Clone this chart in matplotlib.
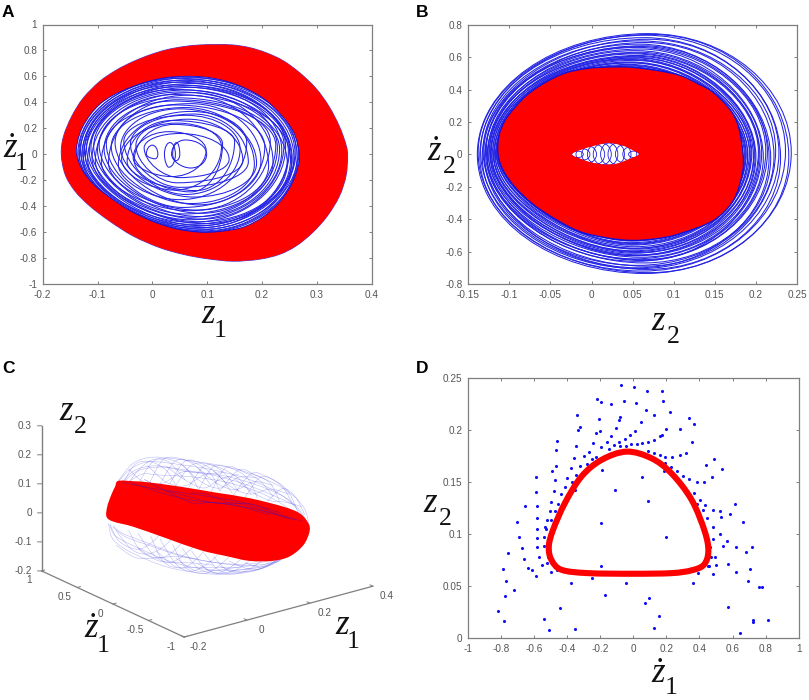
import numpy as np
import matplotlib
matplotlib.use("Agg")
import matplotlib.pyplot as plt
from matplotlib.path import Path
from matplotlib.patches import PathPatch
from mpl_toolkits.mplot3d import art3d, proj3d

# panel A: red band outlines (z1, z1 dot)
a_outer_x = [-.166, -.162, -.147, -.126, -.096, -.065, -.035, -.005, .025, .056, .086, .116, .147, .177, .207, .238, .268, .298, .322,
             .341, .353, .356, .353, .341, .319, .292, .262, .232, .195, .147, .098, .056, .013, -.035, -.078, -.114, -.141, -.159]
a_outer_y = [0, .138, .292, .433, .561, .650, .714, .765, .804, .829, .842, .845, .842, .822, .783, .722, .630, .509, .369,
             .215, .074, -.015, -.169, -.323, -.476, -.604, -.707, -.771, -.809, -.824, -.804, -.771, -.719, -.630, -.515, -.399, -.284, -.156]
a_inner_x = [-.139, -.137, -.129, -.114, -.096, -.072, -.041, -.011, .025, .062, .098, .135, .171, .207, .238, .259, .269,
             .265, .253, .232, .201, .165, .122, .086, .044, .001, -.041, -.078, -.108, -.129]
a_inner_y = [0, .100, .202, .305, .389, .458, .517, .561, .594, .604, .597, .566, .509, .420, .292, .164, 0,
             -.118, -.246, -.374, -.489, -.566, -.599, -.604, -.579, -.522, -.438, -.335, -.233, -.118]

# panel A: blue loops, extents
a_left = [-.136, -.134, -.133, -.131, -.129, -.127, -.126, -.124, -.122, -.120, -.118, -.115, -.112, -.110, -.107, -.104,
          -.100, -.097, -.093, -.088, -.084, -.080, -.075, -.068, -.062, -.058, -.052, -.046, -.040, -.033, -.030, -.056,
          -.015, -.035, .035, .022, .037, -.011]
a_right = [.267, .264, .266, .258, .262, .255, .260, .250, .254, .248, .243, .252, .236, .246, .228, .240,
           .220, .232, .212, .225, .198, .215, .186, .205, .172, .190, .160, .150, .175, .128, .165, .126,
           .140, .098, .099, .042, .050, .010]
a_top = [.596, .585, .590, .570, .575, .555, .560, .535, .545, .520, .530, .500, .515, .480, .495, .460,
         .475, .435, .455, .410, .390, .420, .360, .380, .330, .350, .300, .260, .310, .230, .270, .240,
         .160, .174, .110, .090, .090, .070]
a_bot = [-.598, -.600, -.585, -.590, -.570, -.578, -.555, -.565, -.540, -.550, -.525, -.535, -.505, -.520, -.485, -.500,
         -.460, -.480, -.435, -.455, -.410, -.430, -.380, -.390, -.350, -.330, -.310, -.280, -.255, -.290, -.220, -.276,
         -.180, -.172, -.106, -.100, -.050, -.035]
a_xtop = [.060, .050, .068, .055, .070, .050, .066, .045, .072, .050, .064, .042, .070, .050, .060, .040,
          .072, .045, .066, .038, .070, .045, .060, .040, .070, .050, .062, .035, .075, .040, .065, .045,
          .050, .030, .060, .032, .044, .000]
a_xbot = [.090, .098, .080, .095, .078, .092, .075, .090, .070, .088, .072, .095, .068, .085, .070, .090,
          .060, .085, .068, .090, .055, .080, .070, .085, .050, .075, .060, .080, .050, .070, .045, .040,
          .050, .035, .070, .030, .043, .005]
a_yl = [0, .01, -.01, .02, -.02, .015, -.03, .03, -.01, .04, -.04, .02, .05, -.03, .06, -.05,
        .03, .07, -.06, .04, .08, -.07, .06, .09, -.08, .05, .10, -.06, .08, -.05, .07, -.04,
        .05, -.03, 0, 0, 0, 0]
a_yr = [.01, -.01, .02, -.02, .03, -.03, .01, .04, -.05, .02, .06, -.04, .03, -.07, .05, .08,
        -.06, .04, -.09, .07, -.05, .10, -.08, .06, .09, -.07, .04, .10, -.06, .08, -.05, .06,
        -.04, .03, 0, 0, 0, 0]

# panel B: red disc with the small hole in the middle
b_outer_x = [-.113, -.112, -.105, -.093, -.077, -.056, -.032, -.004, .025, .049, .080, .1076, .130, .1478, .168, .178, .1835,
             .1827, .172, .1478, .1076, .081, .049, .017, -.016, -.048, -.072, -.093, -.107]
b_outer_y = [0, .111, .204, .286, .368, .440, .498, .527, .535, .533, .513, .483, .430, .378, .273, .168, .006,
             -.117, -.281, -.405, -.485, -.515, -.527, -.510, -.469, -.383, -.300, -.198, -.095]
b_hole_x = [-0.024, -0.012, 0.005, 0.022, 0.04, 0.05, 0.0575, 0.045, 0.03, 0.015, 0.0, -0.012]
b_hole_y = [0.0, 0.03, 0.055, 0.07, 0.05, 0.025, 0.0, -0.03, -0.058, -0.062, -0.05, -0.03]

b_left = [-0.139, -0.138, -0.136, -0.135, -0.133, -0.132, -0.130, -0.129, -0.128, -0.127, -0.126, -0.125, -0.124,
          -0.123, -0.122, -0.121, -0.120, -0.119, -0.118, -0.117, -0.116, -0.115, -0.114, -0.114,
          -0.131, -0.127, -0.123, -0.119, -0.116, -0.112]
b_right = [0.243, 0.240, 0.236, 0.230, 0.228, 0.224, 0.222, 0.218, 0.214, 0.212, 0.209, 0.207, 0.205,
           0.203, 0.200, 0.198, 0.197, 0.195, 0.193, 0.192, 0.190, 0.188, 0.187, 0.186,
           0.216, 0.204, 0.199, 0.194, 0.190, 0.188]
b_top = [0.745, 0.740, 0.735, 0.720, 0.710, 0.700, 0.690, 0.680, 0.670, 0.660, 0.650, 0.640, 0.630,
         0.620, 0.610, 0.600, 0.595, 0.585, 0.580, 0.570, 0.565, 0.555, 0.545, 0.540,
         0.665, 0.625, 0.605, 0.590, 0.565, 0.550]
b_bot = [-0.735, -0.730, -0.720, -0.710, -0.705, -0.690, -0.685, -0.670, -0.660, -0.650, -0.645, -0.635, -0.625,
         -0.620, -0.610, -0.605, -0.595, -0.585, -0.580, -0.570, -0.560, -0.550, -0.545, -0.535,
         -0.700, -0.655, -0.625, -0.600, -0.580, -0.555]
b_xtop = [0.069, 0.073, 0.066, 0.064, 0.070, 0.060, 0.066, 0.058, 0.063, 0.056, 0.060, 0.054, 0.058,
          0.052, 0.056, 0.050, 0.054, 0.048, 0.052, 0.047, 0.050, 0.046, 0.048, 0.045,
          0.060, 0.052, 0.056, 0.049, 0.047, 0.046]
b_xbot = [0.065, 0.070, 0.062, 0.068, 0.058, 0.066, 0.056, 0.064, 0.054, 0.062, 0.052, 0.060, 0.056,
          0.058, 0.052, 0.056, 0.050, 0.054, 0.052, 0.052, 0.049, 0.050, 0.048, 0.049,
          0.056, 0.062, 0.050, 0.053, 0.051, 0.049]
b_yl = [0, .01, -.01, .015, -.015, .02, -.02, .01, .025, -.025, .015, -.01, .02, -.02, .01, -.015,
        .015, -.01, .01, -.01, .01, 0, .005, 0, .02, -.02, .01, -.015, .01, 0]
b_yr = [.01, -.015, .02, -.02, .01, .025, -.01, -.025, .015, .02, -.02, .01, -.01, .015, -.015, .01,
        -.01, .01, -.01, .01, 0, .005, 0, 0, -.02, .02, -.01, .01, -.005, 0]
b_kur = [.55, .55, .55, .55, .54, .54, .54, .53, .53, .53, .52, .52, .52, .52, .51, .51, .51, .50, .50, .50, .50, .49, .49, .49,
         .53, .52, .51, .50, .50, .49]
b_kll = [.55, .55, .55, .54, .54, .53, .53, .52, .52, .51, .50, .50, .49, .49, .48, .48, .47, .46, .46, .45, .44, .44, .43, .42,
         .52, .49, .47, .46, .44, .42]

hole_left = [-0.024, -0.019, -0.012, -0.005, 0.002, 0.011, 0.020, 0.029, 0.038, 0.045]
hole_right = [-0.010, -0.002, 0.006, 0.016, 0.024, 0.032, 0.040, 0.048, 0.055, 0.058]
hole_top = [0.02, 0.035, 0.05, 0.06, 0.068, 0.07, 0.068, 0.058, 0.045, 0.02]
hole_bot = [-0.02, -0.035, -0.05, -0.06, -0.064, -0.066, -0.062, -0.052, -0.04, -0.02]
hole_xtop = [-0.017, -0.011, -0.003, 0.005, 0.013, 0.021, 0.03, 0.038, 0.046, 0.051]
hole_xbot = [-0.017, -0.010, -0.003, 0.006, 0.013, 0.022, 0.03, 0.039, 0.047, 0.052]

# panel C: everything lies in the zdot = 0 plane, (z1, z2) pairs
c_red_z1 = [-0.193, -0.183, -0.135, -0.082, 0.024, 0.130, 0.236, 0.342, 0.395, 0.422, 0.425, 0.406, 0.363,
            0.310, 0.236, 0.162, 0.077, -0.029, -0.135, -0.198, -0.220, -0.218, -0.206]
c_red_z2 = [0.202, 0.219, 0.204, 0.184, 0.137, 0.087, 0.037, -0.023, -0.062, -0.104, -0.134, -0.174, -0.200,
            -0.200, -0.179, -0.141, -0.095, -0.024, 0.047, 0.083, 0.106, 0.140, 0.175]

c_halo_z1 = [
    [-0.183, -0.135, -0.071, 0.024, 0.13, 0.236, 0.342, 0.406, 0.425],
    [-0.19, -0.14, -0.08, 0.02, 0.12, 0.23, 0.33, 0.39, 0.42],
    [-0.18, -0.12, -0.04, 0.06, 0.16, 0.26, 0.35, 0.40, 0.42],
    [-0.17, -0.11, -0.05, 0.05, 0.15, 0.25, 0.33, 0.39],
    [-0.18, -0.13, -0.06, 0.03, 0.12, 0.22, 0.31, 0.38],
    [-0.17, -0.13, -0.08, -0.03, 0.0],
    [-0.16, -0.115, -0.07, -0.02, 0.03],
    [-0.12, -0.07, -0.01, 0.04, 0.07],
    [-0.09, -0.04, 0.02, 0.07, 0.11],
    [-0.05, 0.0, 0.06, 0.11, 0.14],
    [-0.02, 0.03, 0.09, 0.14, 0.18],
    [0.0, 0.05, 0.11, 0.16, 0.2],
    [0.04, 0.09, 0.14, 0.2, 0.24],
    [0.07, 0.12, 0.18, 0.23, 0.26],
    [0.11, 0.16, 0.22, 0.27, 0.31],
    [0.14, 0.2, 0.25, 0.3, 0.33],
    [0.18, 0.24, 0.29, 0.34, 0.37],
    [0.22, 0.27, 0.32, 0.36, 0.39],
    [0.29, 0.34, 0.38, 0.41],
    [-0.15, -0.1, -0.04, 0.02, 0.08],
    [-0.09, -0.03, 0.03, 0.09, 0.15],
    [-0.03, 0.03, 0.09, 0.14, 0.2],
    [0.02, 0.08, 0.14, 0.2, 0.26],
    [0.07, 0.13, 0.19, 0.25, 0.31],
    [0.12, 0.18, 0.24, 0.3, 0.36],
    [0.19, 0.25, 0.3, 0.35, 0.4],
    [-0.214, -0.198, -0.135, -0.029, 0.077, 0.183, 0.289, 0.395, 0.425],
    [-0.21, -0.19, -0.12, -0.02, 0.08, 0.18, 0.28, 0.38, 0.42],
    [-0.2, -0.17, -0.10, 0.0, 0.10, 0.20, 0.30, 0.38],
    [-0.2, -0.16, -0.08, 0.02, 0.12, 0.22, 0.31, 0.37],
    [-0.21, -0.18, -0.12, -0.07, -0.04],
    [-0.19, -0.14, -0.09, -0.04, 0.0],
    [-0.15, -0.11, -0.05, 0.0, 0.04],
    [-0.12, -0.07, -0.02, 0.03, 0.08],
    [-0.08, -0.04, 0.02, 0.07, 0.11],
    [-0.05, 0.0, 0.05, 0.11, 0.15],
    [-0.01, 0.03, 0.09, 0.14, 0.19],
    [0.02, 0.07, 0.13, 0.18, 0.23],
    [0.05, 0.10, 0.16, 0.21, 0.26],
    [0.09, 0.14, 0.2, 0.25, 0.3],
    [0.12, 0.17, 0.24, 0.29, 0.34],
    [0.17, 0.23, 0.28, 0.33, 0.38],
    [0.22, 0.27, 0.33, 0.38, 0.41],
    [-0.19, -0.13, -0.07, 0.0, 0.06],
    [-0.12, -0.06, 0.0, 0.06, 0.12],
    [-0.06, 0.0, 0.06, 0.13, 0.2],
    [0.0, 0.06, 0.13, 0.2, 0.26],
    [0.07, 0.13, 0.2, 0.27, 0.33],
    [0.14, 0.2, 0.27, 0.33, 0.39],
]
c_halo_z2 = [
    [0.219, 0.266, 0.268, 0.231, 0.183, 0.123, 0.04, -0.042, -0.116],
    [0.21, 0.25, 0.255, 0.215, 0.168, 0.105, 0.025, -0.05, -0.11],
    [0.20, 0.235, 0.225, 0.18, 0.135, 0.075, 0.005, -0.06, -0.11],
    [0.195, 0.22, 0.20, 0.165, 0.12, 0.06, -0.005, -0.07],
    [0.205, 0.24, 0.235, 0.19, 0.15, 0.09, 0.025, -0.03],
    [0.20, 0.26, 0.255, 0.21, 0.15],
    [0.19, 0.24, 0.26, 0.235, 0.16],
    [0.19, 0.255, 0.24, 0.19, 0.12],
    [0.17, 0.25, 0.235, 0.19, 0.12],
    [0.17, 0.235, 0.21, 0.16, 0.09],
    [0.16, 0.225, 0.195, 0.14, 0.07],
    [0.15, 0.205, 0.19, 0.14, 0.07],
    [0.13, 0.19, 0.17, 0.115, 0.05],
    [0.11, 0.18, 0.155, 0.105, 0.03],
    [0.09, 0.165, 0.13, 0.085, 0.02],
    [0.09, 0.145, 0.115, 0.07, 0.0],
    [0.06, 0.12, 0.095, 0.045, -0.02],
    [0.045, 0.10, 0.07, 0.02, -0.06],
    [0.01, 0.04, 0.0, -0.07],
    [0.25, 0.19, 0.17, 0.19, 0.17],
    [0.245, 0.17, 0.14, 0.16, 0.15],
    [0.225, 0.16, 0.115, 0.13, 0.13],
    [0.215, 0.14, 0.10, 0.12, 0.10],
    [0.19, 0.12, 0.08, 0.09, 0.06],
    [0.165, 0.09, 0.05, 0.05, 0.015],
    [0.115, 0.05, 0.01, -0.01, -0.04],
    [0.082, 0.02, -0.045, -0.122, -0.174, -0.209, -0.215, -0.177, -0.134],
    [0.075, 0.03, -0.03, -0.105, -0.16, -0.195, -0.205, -0.17, -0.13],
    [0.07, 0.035, -0.015, -0.085, -0.14, -0.18, -0.195, -0.165],
    [0.065, 0.02, -0.035, -0.10, -0.15, -0.19, -0.205, -0.18],
    [0.08, 0.01, -0.035, -0.02, 0.01],
    [0.05, -0.03, -0.06, -0.05, -0.02],
    [0.04, -0.045, -0.085, -0.07, -0.03],
    [0.02, -0.07, -0.11, -0.095, -0.06],
    [0.0, -0.10, -0.14, -0.12, -0.08],
    [-0.02, -0.12, -0.16, -0.145, -0.11],
    [-0.05, -0.14, -0.18, -0.165, -0.13],
    [-0.07, -0.155, -0.19, -0.18, -0.15],
    [-0.09, -0.17, -0.2, -0.19, -0.16],
    [-0.11, -0.185, -0.21, -0.2, -0.175],
    [-0.13, -0.195, -0.215, -0.21, -0.19],
    [-0.16, -0.205, -0.215, -0.195, -0.16],
    [-0.18, -0.21, -0.205, -0.17, -0.13],
    [0.0, -0.06, -0.08, -0.095, -0.12],
    [-0.03, -0.09, -0.115, -0.135, -0.16],
    [-0.06, -0.13, -0.15, -0.17, -0.19],
    [-0.10, -0.16, -0.18, -0.19, -0.2],
    [-0.14, -0.19, -0.2, -0.21, -0.205],
    [-0.17, -0.205, -0.215, -0.2, -0.17],
]

c_net_z1 = [
    [-0.17, -0.08, 0.03, 0.14, 0.25, 0.33],
    [-0.14, -0.05, 0.05, 0.17, 0.27, 0.38],
    [-0.10, -0.02, 0.06, 0.11, 0.2, 0.3],
    [-0.03, 0.04, 0.12, 0.2, 0.29, 0.36],
    [0.05, 0.1, 0.17, 0.24, 0.32, 0.4],
]
c_net_z2 = [
    [0.21, 0.165, 0.115, 0.065, 0.01, -0.04],
    [0.2, 0.14, 0.085, 0.035, -0.015, -0.08],
    [0.2, 0.13, 0.07, 0.06, 0.02, -0.04],
    [0.14, 0.1, 0.055, 0.03, -0.025, -0.07],
    [0.11, 0.09, 0.04, 0.015, -0.04, -0.09],
]

c_tick_z2 = [-0.2, -0.1, 0, 0.1, 0.2, 0.3]
c_tick_zdot = [1, 0.5, 0, -0.5, -1]
c_tick_z1 = [-0.2, 0, 0.2, 0.4]

# panel D: section points and the red closed curve
d_x = [-.073, .002, .081, .173, -.220, -.196, -.137, -.058, .018, .181, .075, .222, .127, -.077, -.085, -.204,
       -.337, .046, .339, .365, -.319, -.335, -.200, -.222, -.105, .012, .200, .282, .171, .161, -.022, -.052,
       .127, -.458, -.085, -.244, -.161, -.343, -.133, .353, -.468, -.270, -.192, -.147, -.115, -.081, -.046, -.014,
       .020, .054, .089, -.300, -.359, -.319, -.224, -.248, -.278, -.377, -.466, -.490, -.589, -.190, .054, .188,
       .194, .236, .280, .319, .091, .123, .161, .194, .228, .264, .300, .339, .385, .427, .476, .438,
       .488, .534, -.470, -.397, -.347, -.369, -.413, -.480, -.587, -.351, -.111, .091, .367, .403, .331, .383,
       .435, .419, -.653, -.581, -.494, -.438, -.456, -.474, -.504, -.581, -.518, -.494, -.700, -.532, -.528, -.581,
       -.688, -.581, -.538, -.196, .198, .526, .532, .482, .446, .484, .522, .615, .585, .661, .567, .623,
       .681, .716, .540, .484, .466, -.758, -.673, -.581, -.538, -.657, -.571, -.514, -.518, -.635, -.613, -.552,
       -.587, -.498, -.462, -.784, -.766, -.720, -.776, -.819, -.780, -.538, -.508, -.353, -.440, -.375, -.250, -.192,
       -.171, -.042, .071, .097, .153, .127, .361, .389, .450, .458, .484, .500, .494, .470, .575, .623,
       .692, .704, .760, .780, .571, .722, .726, .817, .645]
d_y = [.243, .241, .237, .237, .230, .227, .225, .228, .226, .228, .219, .217, .214, .212, .209, .210,
       .214, .207, .211, .206, .203, .200, .199, .197, .202, .199, .201, .201, .195, .194, .195, .191,
       .190, .189, .188, .187, .188, .184, .194, .188, .181, .179, .183, .182, .185, .184, .184, .186,
       .186, .187, .188, .175, .173, .165, .174, .172, .167, .163, .165, .160, .155, .161, .155, .160,
       .174, .174, .176, .178, .180, .178, .176, .168, .164, .160, .156, .153, .150, .150, .155, .166,
       .172, .162, .152, .154, .157, .150, .145, .141, .140, .142, .142, .132, .139, .133, .136, .129,
       .128, .123, .127, .127, .131, .138, .129, .122, .122, .115, .113, .113, .111, .107, .105, .105,
       .097, .096, .097, .110, .097, .122, .116, .123, .115, .107, .100, .129, .119, .111, .093, .087,
       .083, .087, .088, .095, .087, .082, .086, .087, .088, .076, .078, .078, .072, .067, .065, .070,
       .060, .063, .065, .066, .055, .046, .040, .026, .016, .018, .008, .009, .029, .053, .058, .069,
       .041, .053, .034, .038, .021, .010, .053, .062, .069, .069, .061, .070, .078, .078, .071, .063,
       .055, .066, .049, .049, .030, .017, .015, .017, .005]
d_ring_x = [0.0, 0.232, 0.353, 0.427, 0.454, 0.433, 0.353, 0.232, 0.111, -0.04,
            -0.192, -0.313, -0.413, -0.484, -0.51, -0.494, -0.433, -0.272]
d_ring_y = [0.0617, 0.0623, 0.065, 0.0703, 0.083, 0.102, 0.1327, 0.158, 0.1726, 0.179,
            0.171, 0.155, 0.1295, 0.104, 0.088, 0.075, 0.0655, 0.0623]

W, H = 809, 700
GRAY = "#7f7f7f"
TICK_TEXT = "#555555"
SERIF = "Liberation Serif"
SANS = "Liberation Sans"


def smooth_path(xs, ys, closed=True):
    # bezier pieces that pass through the read points
    pts = np.column_stack([xs, ys])
    n = len(pts)
    verts = [pts[0]]
    codes = [Path.MOVETO]
    for i in range(n if closed else n - 1):
        if closed:
            p0, p1, p2, p3 = pts[i - 1], pts[i], pts[(i + 1) % n], pts[(i + 2) % n]
        else:
            p0, p1, p2, p3 = pts[max(i - 1, 0)], pts[i], pts[i + 1], pts[min(i + 2, n - 1)]
        verts += [p1 + (p2 - p0) / 6, p2 - (p3 - p1) / 6, p2]
        codes += [Path.CURVE4] * 3
    return Path(np.array(verts), codes)


def egg_path(left, right, top, bot, xtop, xbot, yl=0, yr=0, k_ur=0.5523, k_ll=0.5523):
    k = 0.5523
    verts = [(left, yl),
             (left, yl + k * (top - yl)), (xtop - k * (xtop - left), top), (xtop, top),
             (xtop + k_ur * (right - xtop), top), (right, yr + k_ur * (top - yr)), (right, yr),
             (right, yr + k * (bot - yr)), (xbot + k * (right - xbot), bot), (xbot, bot),
             (xbot - k_ll * (xbot - left), bot), (left, yl + k_ll * (bot - yl)), (left, yl)]
    codes = [Path.MOVETO] + [Path.CURVE4] * 12
    return Path(verts, codes)


def make_axes(x0, y0, x1, y1):
    return fig.add_axes([x0 / W, 1 - y1 / H, (x1 - x0) / W, (y1 - y0) / H])


def style_axes(ax, xticks, xlabels, yticks, ylabels):
    ax.set_xticks(xticks)
    ax.set_xticklabels(xlabels)
    ax.set_yticks(yticks)
    ax.set_yticklabels(ylabels)
    ax.tick_params(direction="in", length=2.2, width=0.7, color=GRAY, labelcolor=TICK_TEXT,
                   labelsize=7.2, top=True, right=True, pad=4)
    for lab in ax.get_xticklabels() + ax.get_yticklabels():
        lab.set_fontfamily(SANS)
    for s in ax.spines.values():
        s.set_color(GRAY)
        s.set_linewidth(0.9)


def var_label(letter, sub, x, y, sub_x, sub_y):
    fig.text(x / W, 1 - y / H, letter, family=SERIF, style="italic", fontsize=25, va="baseline", color="#111111")
    fig.text(sub_x / W, 1 - sub_y / H, sub, family=SERIF, fontsize=18.5, va="baseline", color="#111111")


def tick_text3d(ax, z1, zdot, z2, s, ha):
    # project by hand so the label is an ordinary 2D text of the axes
    x2, y2, _ = proj3d.proj_transform(z1, zdot, z2, ax.get_proj())
    ax.text2D(x2, y2, s, transform=ax.transData, ha=ha, va="center", fontsize=7.2, family=SANS, color=TICK_TEXT)


fig = plt.figure(figsize=(W / 100, H / 100), dpi=100)

# A
ax = make_axes(42.7, 24.5, 371.7, 284)
for loop in zip(a_left, a_right, a_top, a_bot, a_xtop, a_xbot, a_yl, a_yr):
    ax.add_patch(PathPatch(egg_path(*loop, k_ll=0.47), fc="none", ec="#2424e4", lw=0.75))
ax.add_patch(PathPatch(smooth_path(a_inner_x, a_inner_y), fc="none", ec="#1212d8", lw=1.3))
ax.add_patch(PathPatch(smooth_path(a_outer_x, a_outer_y), fc="none", ec="#4040e8", lw=0.7))
band = Path.make_compound_path(smooth_path(a_outer_x, a_outer_y), smooth_path(a_inner_x[::-1], a_inner_y[::-1]))
ax.add_patch(PathPatch(band, fc="#ff0000", ec="none"))
ax.set_xlim(-0.2, 0.4)
ax.set_ylim(-1, 1)
style_axes(ax, [-0.2, -0.1, 0, 0.1, 0.2, 0.3, 0.4], ["-0.2", "-0.1", "0", "0.1", "0.2", "0.3", "0.4"],
           np.arange(-10, 11, 2) / 10,
           ["-1", "-0.8", "-0.6", "-0.4", "-0.2", "0", "0.2", "0.4", "0.6", "0.8", "1"])

# B
ax = make_axes(468.3, 24.7, 797, 284)
for left, right, top, bot, xtop, xbot, yl, yr, kur, kll in zip(b_left, b_right, b_top, b_bot, b_xtop, b_xbot,
                                                               b_yl, b_yr, b_kur, b_kll):
    path = egg_path(left, right, top, bot, xtop, xbot, yl, yr, k_ur=kur, k_ll=kll)
    ax.add_patch(PathPatch(path, fc="none", ec="#2424e4", lw=0.75))
for loop in zip(hole_left, hole_right, hole_top, hole_bot, hole_xtop, hole_xbot):
    ax.add_patch(PathPatch(egg_path(*loop), fc="none", ec="#1c1ce0", lw=0.6))
ax.add_patch(PathPatch(smooth_path(b_outer_x, b_outer_y), fc="none", ec="#1212d8", lw=2.0))
disc = Path.make_compound_path(smooth_path(b_outer_x, b_outer_y), smooth_path(b_hole_x[::-1], b_hole_y[::-1]))
ax.add_patch(PathPatch(disc, fc="#ff0000", ec="none"))
ax.set_xlim(-0.15, 0.25)
ax.set_ylim(-0.8, 0.8)
style_axes(ax, [-0.15, -0.1, -0.05, 0, 0.05, 0.1, 0.15, 0.2, 0.25],
           ["-0.15", "-0.1", "-0.05", "0", "0.05", "0.1", "0.15", "0.2", "0.25"],
           np.arange(-8, 9, 2) / 10,
           ["-0.8", "-0.6", "-0.4", "-0.2", "0", "0.2", "0.4", "0.6", "0.8"])

# C
ax = fig.add_axes([1.8 / W, -11.4 / H, 400 / W, 400 / H], projection="3d", computed_zorder=False)
ax.set_proj_type("ortho")
ax.view_init(elev=20.7, azim=-127.3)
ax.set_box_aspect((237, 235, 155), zoom=0.894)
ax.set_xlim(-0.2, 0.4)
ax.set_ylim(-1, 1)
ax.set_zlim(-0.2, 0.3)
ax.set_xticks([])
ax.set_yticks([])
ax.set_zticks([])
ax.set_axis_off()
ax.patch.set_alpha(0)

for zs1, zs2 in zip(c_halo_z1, c_halo_z2):
    patch = PathPatch(smooth_path(zs1, zs2, closed=False), fc="none", ec="#3030e0", lw=0.4, alpha=0.33, zorder=2)
    ax.add_patch(patch)
    art3d.pathpatch_2d_to_3d(patch, z=0, zdir="y")
patch = PathPatch(smooth_path(c_red_z1, c_red_z2), fc="#ff0000", ec="none", zorder=3)
ax.add_patch(patch)
art3d.pathpatch_2d_to_3d(patch, z=0, zdir="y")
for zs1, zs2 in zip(c_net_z1, c_net_z2):
    patch = PathPatch(smooth_path(zs1, zs2, closed=False), fc="none", ec="#3a10c0", lw=0.45, alpha=0.5, zorder=4)
    ax.add_patch(patch)
    art3d.pathpatch_2d_to_3d(patch, z=0, zdir="y")

ax.plot([-0.2, -0.2], [1, 1], [-0.2, 0.3], color=GRAY, lw=1.0, zorder=1)
ax.plot([-0.2, -0.2], [1, -1], [-0.2, -0.2], color=GRAY, lw=0.9, zorder=1)
ax.plot([-0.2, 0.4], [-1, -1], [-0.2, -0.2], color=GRAY, lw=0.9, zorder=1)
for v in c_tick_z2:
    ax.plot([-0.2, -0.208], [1, 1.02], [v, v], color=GRAY, lw=0.7, zorder=1)
    tick_text3d(ax, -0.219, 1.05, v, str(v), "right")
for v in c_tick_zdot:
    ax.plot([-0.2, -0.19], [v, v], [-0.2, -0.2], color=GRAY, lw=0.7, zorder=1)
    tick_text3d(ax, -0.241, v, -0.221, str(v), "center")
for v in c_tick_z1:
    ax.plot([v, v], [-1, -0.96], [-0.2, -0.2], color=GRAY, lw=0.7, zorder=1)
    tick_text3d(ax, v, -1.2, -0.212, str(v), "center")

# D
ax = make_axes(467.7, 377.7, 798.7, 638)
ax.scatter(d_x, d_y, s=5, color="#1010f0", linewidths=0, zorder=2)
ax.add_patch(PathPatch(smooth_path(d_ring_x, d_ring_y), fc="none", ec="#ff0000", lw=4.4, zorder=3))
ax.set_xlim(-1, 1)
ax.set_ylim(0, 0.25)
style_axes(ax, np.arange(-10, 11, 2) / 10,
           ["-1", "-0.8", "-0.6", "-0.4", "-0.2", "0", "0.2", "0.4", "0.6", "0.8", "1"],
           [0, 0.05, 0.1, 0.15, 0.2, 0.25], ["0", "0.05", "0.1", "0.15", "0.2", "0.25"])

# axis names, placed in figure pixels
var_label("z", "1", 201.7, 323, 214, 337)
var_label("\u017c", "1", 3, 157, 14.5, 170)
var_label("z", "2", 651.7, 330, 666.7, 343)
var_label("\u017c", "2", 427.7, 160, 443.3, 173)
var_label("z", "2", 59, 420, 74, 433)
var_label("\u017c", "1", 84, 637, 96.7, 651.7)
var_label("z", "1", 335, 634, 346.7, 647.7)
var_label("z", "2", 423.3, 511.7, 439.3, 525)
var_label("\u017c", "1", 651.7, 682.5, 664.3, 694)

for letter, x, y in [("A", 2, 17), ("B", 415.7, 17), ("C", 2.5, 372.7), ("D", 415.7, 372.7)]:
    fig.text(x / W, 1 - y / H, letter, family=SANS, weight="bold", fontsize=12.5, va="baseline", color="black")

plt.savefig("out.png", dpi=100)
plt.close()
